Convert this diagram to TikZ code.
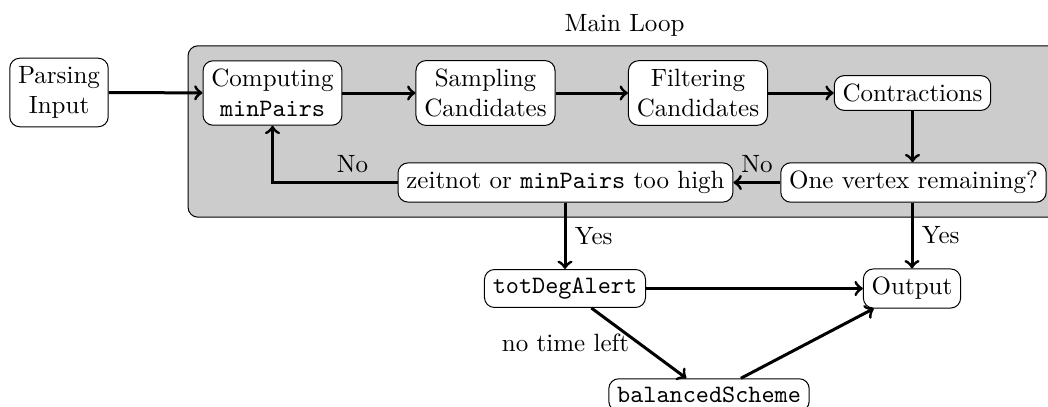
\documentclass[tikz,border=0pt]{standalone}
\usetikzlibrary{fit,backgrounds}
\begin{document}
\begin{tikzpicture}[x=0.4pt,y=-0.4pt,
  box/.style={draw, rounded corners=4pt, fill=white, align=center, inner sep=3.33pt},
  arr/.style={->, very thick},
  loopbox/.style={draw, rounded corners=4pt, fill=black!20}]
\useasboundingbox (0,0) rectangle (1048,407);
\node[box] (parse) at (59,92.5) {Parsing\\Input};
\node[box] (comp) at (272.5,93) {Computing\\\texttt{minPairs}};
\node[box] (samp) at (485.5,93) {Sampling\\Candidates};
\node[box] (filt) at (698,93) {Filtering\\Candidates};
\node[box] (contr) at (912.5,93) {Contractions};
\node[box] (onev) at (913.5,182.5) {One vertex remaining?};
\node[box] (zeit) at (565.5,182.5) {zeitnot or \texttt{minPairs} too high};
\node[box] (tot) at (565,288.5) {\texttt{totDegAlert}};
\node[box] (out) at (912,288.5) {Output};
\node[box] (bal) at (709,395) {\texttt{balancedScheme}};
\begin{scope}[on background layer]
\node[loopbox, fit=(comp)(onev), inner sep=5.8pt, label={[inner sep=3.33pt]above:Main Loop}] (loop) {};
\end{scope}
\draw[arr] (parse) -- (comp);
\draw[arr] (comp) -- (samp);
\draw[arr] (samp) -- (filt);
\draw[arr] (filt) -- (contr);
\draw[arr] (contr) -- (contr |- onev.north);
\draw[arr] (onev) -- node[above] {No} (zeit);
\draw[arr] (zeit.west) -| node[above, pos=0.18] {No} (comp.south);
\draw[arr] (zeit.south -| tot) -- node[right] {Yes} (tot);
\draw[arr] (onev.south -| out) -- node[right] {Yes} (out);
\draw[arr] (tot) -- (out);
\draw[arr] (tot) -- node[left] {no time left} (bal);
\draw[arr] (bal) -- (out);
\end{tikzpicture}
\end{document}
